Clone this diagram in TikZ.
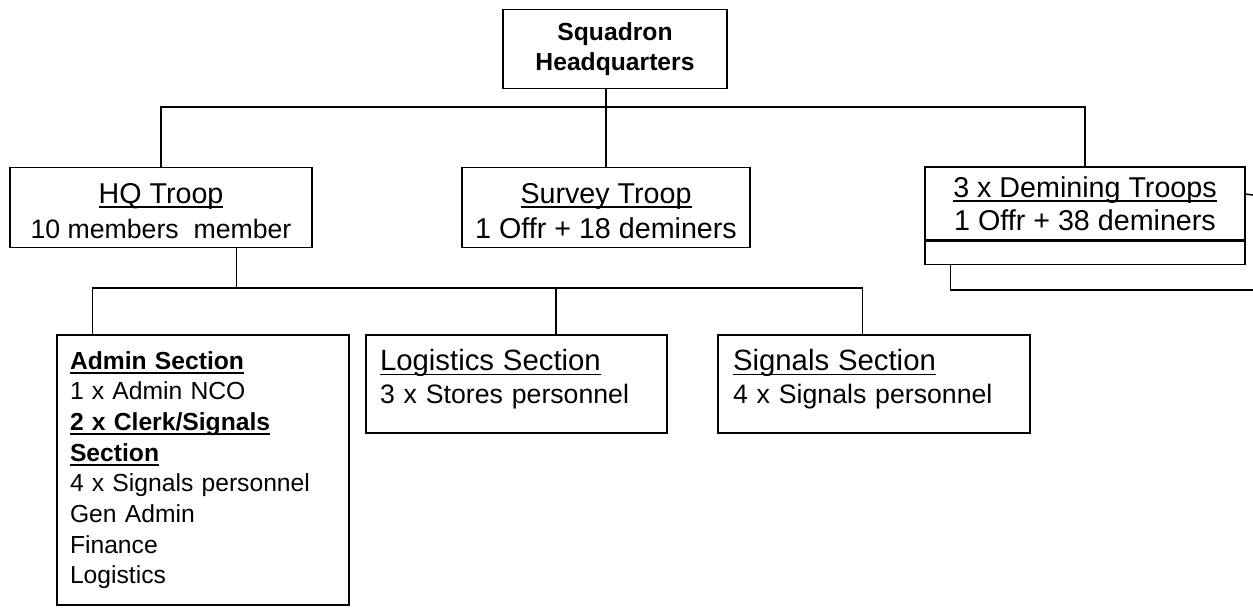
\documentclass[tikz,border=0pt]{standalone}
\usepackage{fontspec}
\setmainfont{Liberation Sans}
\usetikzlibrary{positioning, calc}

\newsavebox{\undrbox}
\newcommand{\undr}[1]{\leavevmode\sbox{\undrbox}{#1}\rlap{\vrule height -2.2pt depth 3.6pt width \wd\undrbox}\usebox{\undrbox}}
\newcommand{\topstrut}{\rule{0pt}{20pt}}
\newcommand{\botstrut}{\rule[-11pt]{0pt}{11pt}}

\tikzset{
    unitbox/.style={draw, line width=1.1pt, inner sep=0pt, align=center},
    troopbox/.style={unitbox, minimum height=60pt, font=\fontsize{21.5}{26}\selectfont},
    secbox/.style={draw, line width=1.1pt, align=left, anchor=center},
    bus/.style={line width=1.1pt},
}

\begin{document}
\begin{tikzpicture}[x=0.75pt,y=0.75pt,yscale=-1,xscale=1]
        \useasboundingbox (0,0) rectangle (1253,609);

        %Squadron headquarters
        \node[unitbox, minimum width=168pt, minimum height=59pt, font=\fontsize{18.5}{22.5}\selectfont\bfseries] (sqhq) at (615,49) {Squadron\\Headquarters};

        %Troops
        \node[troopbox, minimum width=226.5pt] (hqtroop) at (161,207.5) {\topstrut\undr{HQ Troop}\\{\fontsize{20}{26}\selectfont 10 members\ \ member}};
        \node[troopbox, minimum width=216pt] (survey) at (606,207.5) {\topstrut\undr{Survey Troop}\\1 Offr + 18 deminers};
        \node[unitbox, minimum width=240pt, minimum height=55pt, font=\fontsize{21.5}{25}\selectfont] (demin) at (1085,203.5) {\undr{3 x Demining Troops}\\1 Offr + 38 deminers};
        \node[unitbox, minimum width=240pt, minimum height=17pt, below=0pt of demin] (deminx) {};

        %Sections
        \node[secbox, text width=199.5pt, inner xsep=9.75pt, inner ysep=0pt, minimum height=202.5pt, font=\fontsize{18.5}{23}\selectfont] (admin) at (203,470)
            {\textbf{\undr{Admin Section}}\\1 x Admin NCO\\\textbf{\undr{2 x Clerk/Signals}}\\\textbf{\undr{Section}}\\4 x Signals personnel\\Gen Admin\\Finance\\Logistics};
        \node[secbox, text width=204.75pt, inner xsep=10.5pt, inner ysep=10.5pt, minimum height=73.5pt, font=\fontsize{20}{25}\selectfont] (logis) at (516.5,384)
            {{\fontsize{22}{25}\selectfont\undr{Logistics Section}}\\3 x Stores personnel\botstrut};
        \node[secbox, text width=211.5pt, inner xsep=11.25pt, inner ysep=10.5pt, minimum height=73.5pt, font=\fontsize{20}{25}\selectfont] (signals) at (874,384)
            {{\fontsize{22}{25}\selectfont\undr{Signals Section}}\\4 x Signals personnel\botstrut};

        %Bus points
        \coordinate (bustop) at (606,107);
        \coordinate (buslow) at (556,288);
        \coordinate (hqdrop) at ($(hqtroop.south west)+(227,0)$);
        \coordinate (edgeA) at (1253,195);
        \coordinate (edgeB) at (1253,290);

        %Connectors
        \draw[bus] (sqhq.south -| survey.north) -- (survey.north);
        \draw[bus] (hqtroop.north) |- (bustop) -| (demin.north);
        \draw[bus] (hqdrop) -- (hqdrop |- buslow);
        \draw[bus] ($(admin.north west)+(36,0)$) |- (buslow) -| ($(signals.north west)+(145,0)$);
        \draw[bus] (buslow) -- (buslow |- logis.north);
        \draw[bus] ($(demin.north east)+(0,28)$) -- (edgeA);
        \draw[bus] ($(deminx.south west)+(26,0)$) |- (edgeB);

    \end{tikzpicture}
\end{document}
